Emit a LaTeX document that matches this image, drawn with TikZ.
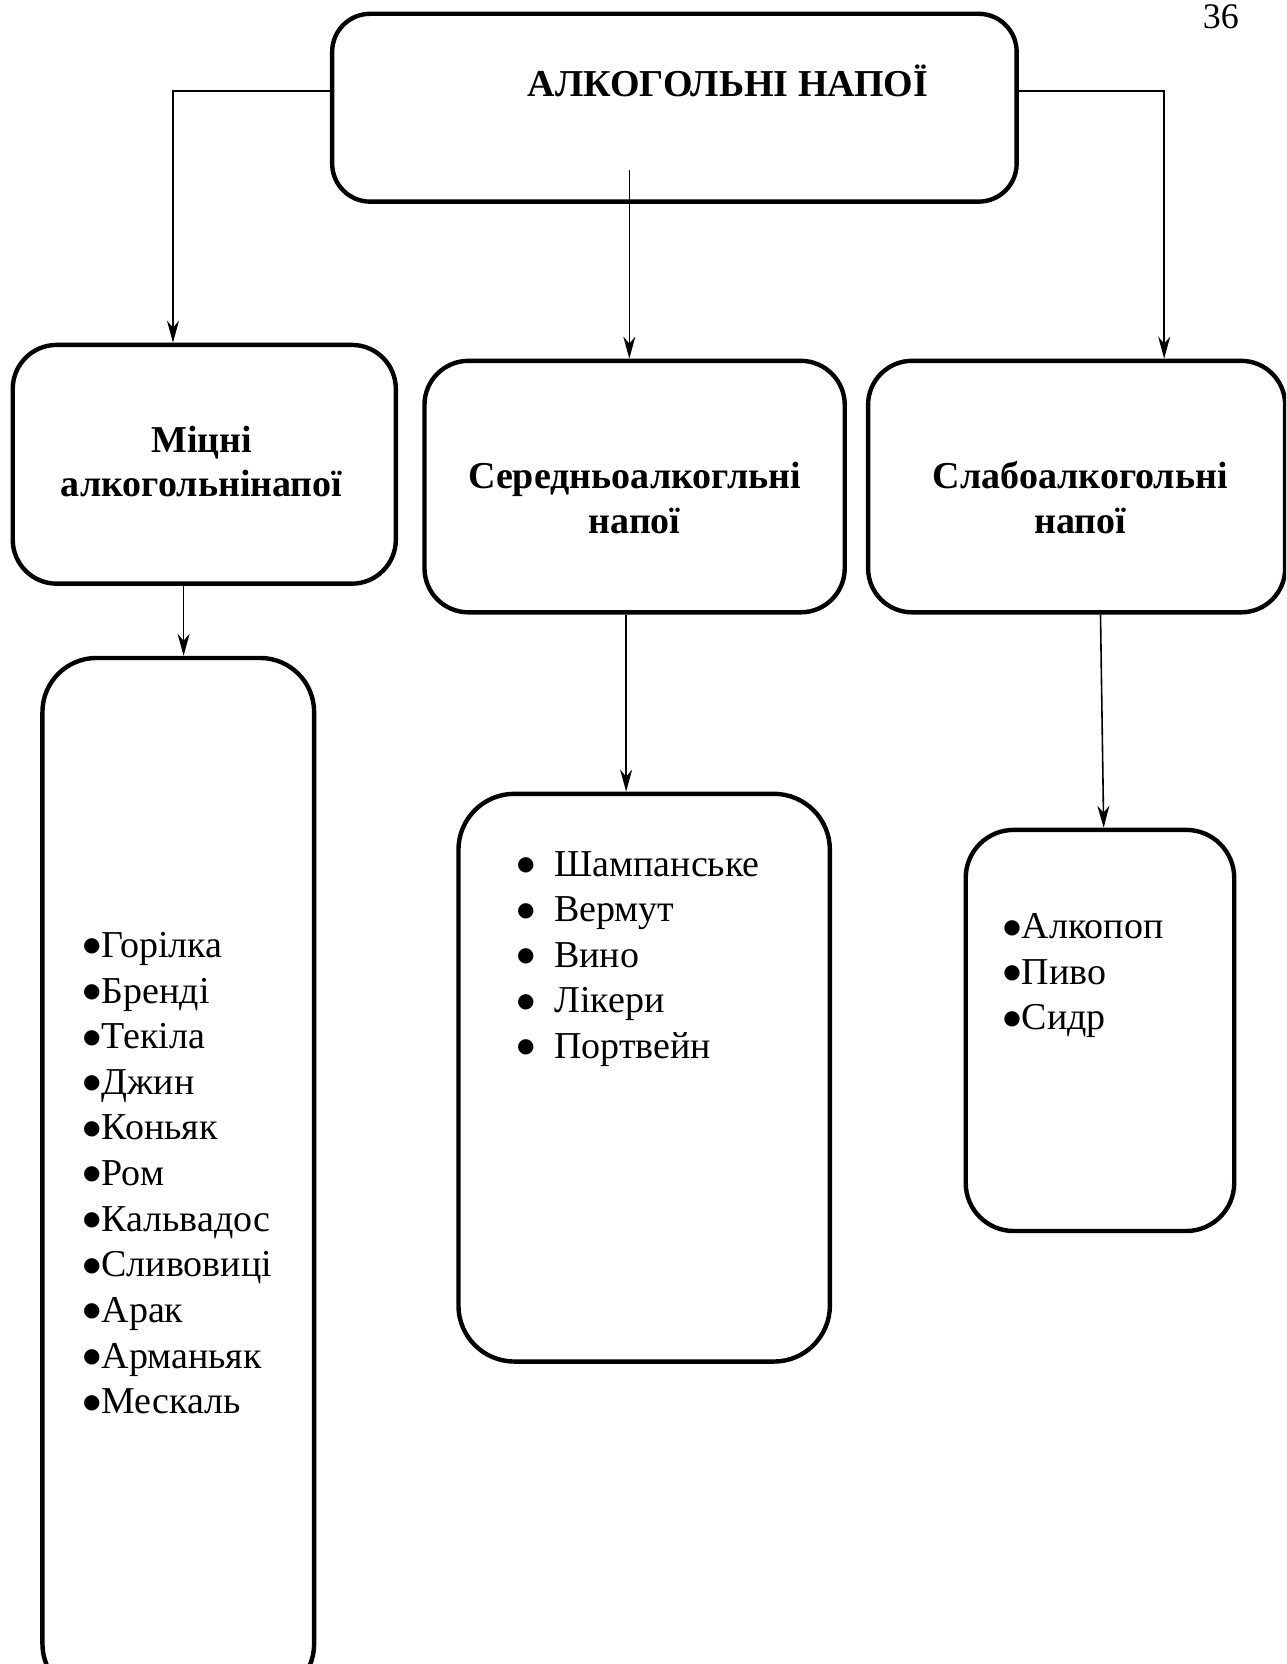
\documentclass[tikz,border=0pt]{standalone}
\usepackage{fontspec}
\setmainfont{Liberation Serif}
\newfontfamily\dejavubul{DejaVu Sans}
\usetikzlibrary{arrows.meta,fit}
\newcommand\bulmark{\raisebox{2.8pt}{\dejavubul\fontsize{10}{10}\selectfont ●}\kern0.5pt}
\newcommand\tabbul{\makebox[18.5pt][l]{\bulmark}}
\begin{document}
\begin{tikzpicture}[x=0.5305pt,y=-0.5305pt,
  box/.style={draw, line width=2.2pt, inner sep=0pt, rounded corners=#1},
  box/.default=22pt,
  conn/.style={line width=0.8pt, -{Stealth[length=11pt,width=6pt,inset=3.5pt]}},
  head/.style={font=\fontsize{19}{22.3}\selectfont\bfseries, align=center, inner sep=0pt},
  items/.style={font=\fontsize{19}{22.8}\selectfont, align=left, anchor=west, inner sep=0pt}]
\useasboundingbox (0,0) rectangle (1212,1568);
\fill[white] (0,0) rectangle (1212,1568);
\clip (0,0) rectangle (1212,1568);

% page number
\node[font=\fontsize{18}{20}\selectfont, anchor=base west, inner sep=0pt] (pg) at (1133,27) {36};

% boxes
\node[box=19pt, fit={(313,13) (958,190)}] (top) {};
\node[head] (title) at (686,76) {АЛКОГОЛЬНІ НАПОЇ};

\node[box, fit={(12,325) (373,550)}] (m) {};
\node[head] (mt) at (190,435) {Міцні\\алкогольнінапої};

\node[box, fit={(400,340) (796,577)}] (s) {};
\node[head] (st) at (598,469) {Середньоалкогльні\\напої};

\node[box, fit={(818,340) (1211,577)}] (w) {};
\node[head] (wt) at (1018,469) {Слабоалкогольні\\напої};

\node[box=27pt, fit={(40,620) (296,1600)}] (l4) {};
\node[items] (i4) at (78,1105.5) {\bulmark Горілка\\\bulmark Бренді\\\bulmark Текіла\\\bulmark Джин\\\bulmark Коньяк\\\bulmark Ром\\\bulmark Кальвадос\\\bulmark Сливовиці\\\bulmark Арак\\\bulmark Арманьяк\\\bulmark Мескаль};

\node[box=28pt, fit={(432,748) (782,1283)}] (l5) {};
\node[items] (i5) at (487,903.5) {\tabbul Шампанське\\\tabbul Вермут\\\tabbul Вино\\\tabbul Лікери\\\tabbul Портвейн};

\node[box=24pt, fit={(910,782) (1163,1160)}] (l6) {};
\node[items] (i6) at (945,919.5) {\bulmark Алкопоп\\\bulmark Пиво\\\bulmark Сидр};

% connectors
\coordinate (tm) at (593,160);
\draw[conn] (top.west |- 0,86) -| (m.north -| 163,0);
\draw[conn] (top.east |- 0,86) -| (w.north -| 1097,0);
\draw[conn] (tm) -- (s.north -| 593,0);
\draw[conn] (m.south -| 173,0) -- (l4.north -| 173,0);
\draw[conn] (s.south -| 590,0) -- (l5.north -| 590,0);
\draw[conn] (w.south -| 1037,0) -- (l6.north -| 1040,0);
\end{tikzpicture}
\end{document}
